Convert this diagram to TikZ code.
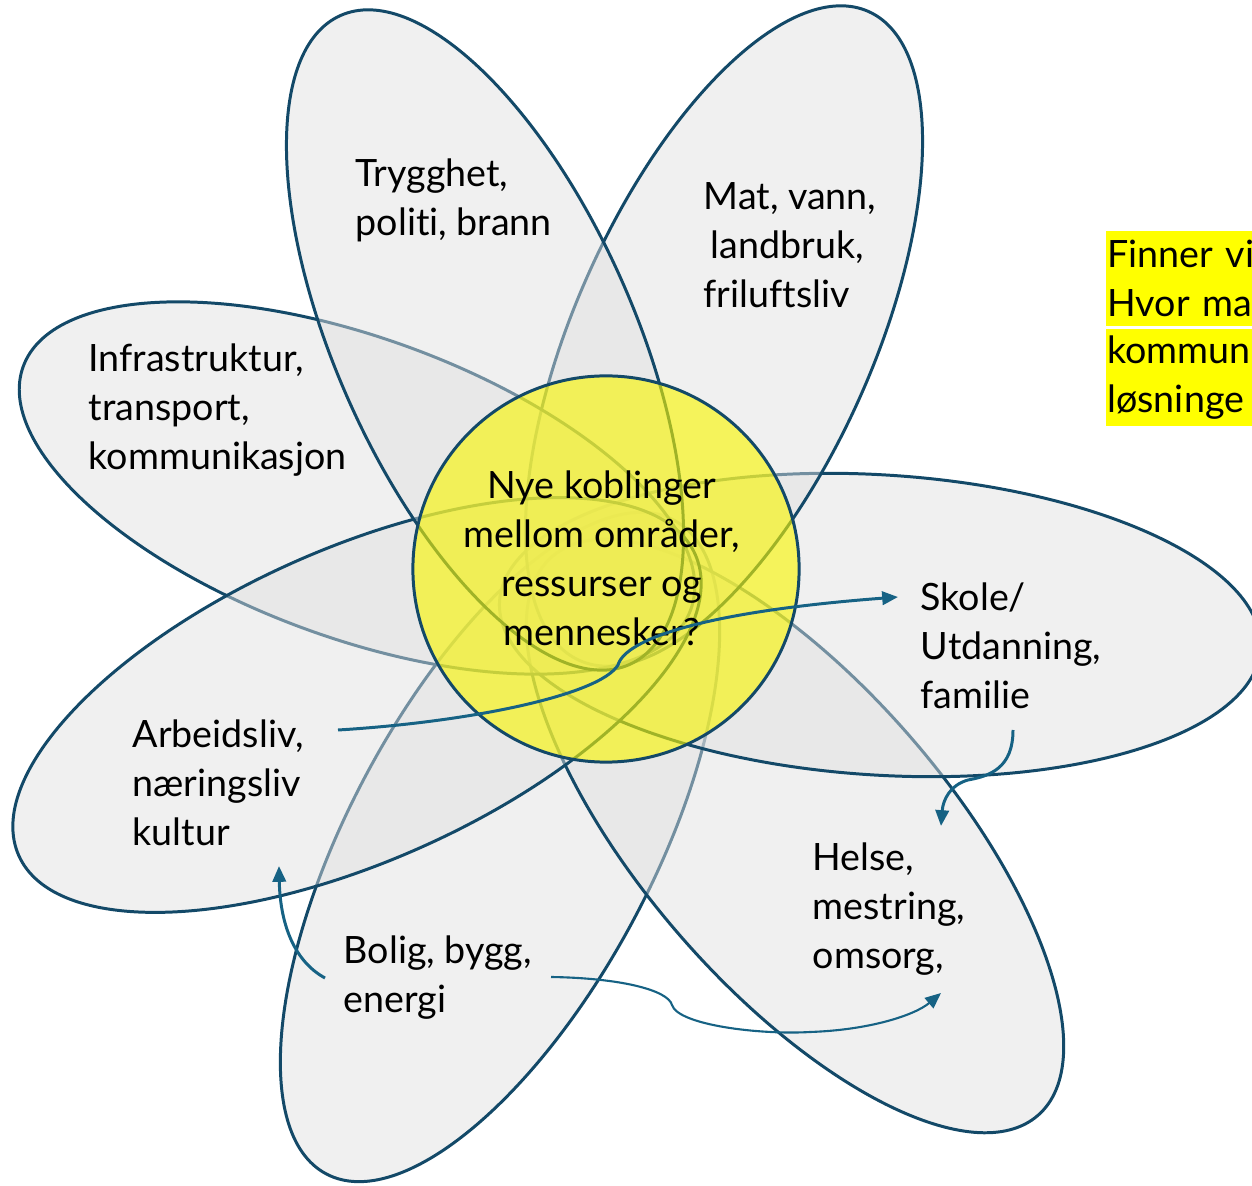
\documentclass[tikz,border=0pt]{standalone}
\usepackage{fontspec}
\setmainfont{Lato}[Ligatures=NoCommon]
\usetikzlibrary{arrows.meta,calc}
\definecolor{petalline}{RGB}{19,73,104}
\definecolor{petalfill}{RGB}{223,223,223}
\definecolor{kjernegul}{RGB}{248,245,0}
\definecolor{linkblue}{RGB}{22,98,132}
\definecolor{markgul}{RGB}{255,255,0}
\tikzset{
  petal/.style={draw=petalline, line width=0.85pt, fill=petalfill, fill opacity=0.47},
  kjerne/.style={draw=petalline, line width=0.85pt, fill=kjernegul, fill opacity=0.62},
  etikett/.style={font=\fontsize{10.7}{13.9}\selectfont, align=left, anchor=west, inner sep=0pt},
  merknad/.style={etikett, anchor=north west, fill=markgul, text width=3cm, inner xsep=0.5pt, minimum height=0.95cm},
  link/.style={draw=linkblue, line width=0.85pt, -{Triangle[length=4.5pt,width=3.8pt]}}
}
\begin{document}
\begin{tikzpicture}[x=0.01cm,y=-0.01cm]
\useasboundingbox (0,0) rectangle (1252,1186);
\clip (0,0) rectangle (1252,1186);
\draw[petal, rotate around={62:(500,847)}] (500,847) ellipse [x radius=3.70cm, y radius=1.52cm];
\draw[petal, rotate around={-49:(795,836)}] (795,836) ellipse [x radius=3.70cm, y radius=1.52cm];
\draw[petal, rotate around={-3.6:(880,625)}] (880,625) ellipse [x radius=3.81cm, y radius=1.50cm];
\draw[petal, rotate around={66:(724,336)}] (724,336) ellipse [x radius=3.55cm, y radius=1.49cm];
\draw[petal, rotate around={-20:(357,488)}] (357,488) ellipse [x radius=3.55cm, y radius=1.50cm];
\draw[petal, rotate around={24:(357,705)}] (357,705) ellipse [x radius=3.70cm, y radius=1.56cm];
\draw[petal, rotate around={114:(485,340)}] (485,340) ellipse [x radius=3.55cm, y radius=1.49cm];
\draw[kjerne] (606,569) circle [radius=1.93cm];
\node[etikett] (trygg) at (355,200) {Trygghet,\\politi, brann};
\node[etikett] (mat) at (703,245) {Mat, vann,\\\hspace{2pt}landbruk,\\friluftsliv};
\node[etikett] (infra) at (88,410) {Infrastruktur,\\transport,\\kommunikasjon};
\node[etikett, align=center, anchor=center] (midt) at (602,558) {Nye koblinger\\mellom områder,\\ressurser og\\mennesker?};
\node[etikett] (skole) at (920,646) {Skole/\\Utdanning,\\familie};
\node[etikett] (arbeid) at (132,783) {Arbeidsliv,\\næringsliv\\kultur};
\node[etikett] (helse) at (812,909) {Helse,\\mestring,\\omsorg,};
\node[etikett] (bolig) at (343,978) {Bolig, bygg,\\energi};
\node[merknad] (spm1) at (1105,230) {Finner vi\\Hvor ma};
\node[merknad, minimum height=0.97cm] (spm2) at (1105,328) {kommun\\løsninge};
\draw[link] ($(arbeid.west)+(206,-53)$) .. controls (470,722) and (600,695) .. (618,665)
  .. controls (625,640) and (700,612) .. ($(skole.west)+(-22,-49)$);
\draw[link] ($(skole.west)+(93,84)$) .. controls (1013,768) and (990,776) .. (968,780)
  .. controls (950,785) and (943,800) .. ($(helse.west)+(129,-83)$);
\draw[link] ($(bolig.west)+(-18,0)$) .. controls (292,960) and (280,920) .. ($(arbeid.west)+(147,83)$);
\draw[link, line width=0.6pt] ($(bolig.west)+(208,-1)$) .. controls (620,978) and (668,990) .. (672,1005)
  .. controls (678,1025) and (760,1035) .. (810,1032) .. controls (870,1030) and (915,1015) .. ($(helse.west)+(129,84)$);
\end{tikzpicture}
\end{document}
